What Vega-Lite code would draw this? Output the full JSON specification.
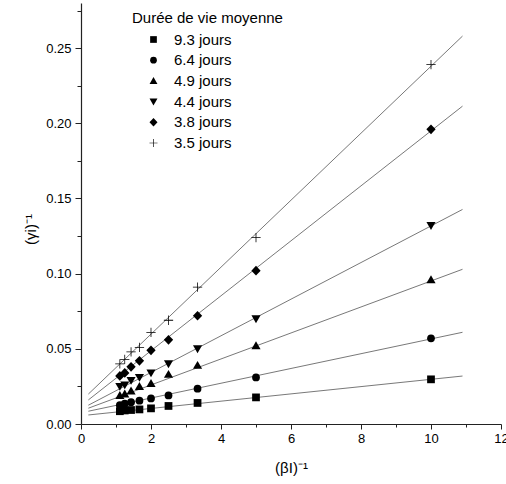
{
  "$schema": "https://vega.github.io/schema/vega-lite/v6.json",
  "width": 420,
  "height": 421,
  "autosize": {"type": "none"},
  "padding": {"left": 81, "top": 3, "right": 5, "bottom": 60},
  "background": "white",
  "config": {
    "view": {"stroke": null},
    "font": "Liberation Sans",
    "axis": {
      "grid": false,
      "domainColor": "#222",
      "domainWidth": 1.2,
      "tickColor": "#222",
      "tickWidth": 1,
      "labelFont": "Liberation Sans",
      "labelFontSize": 13,
      "labelColor": "black",
      "titleFont": "Liberation Sans",
      "titleFontSize": 15,
      "titleFontWeight": "normal",
      "titleColor": "black"
    }
  },
  "datasets": {
    "points": [
      {"serie": "9.3 jours", "x": 1.11, "y": 0.0085},
      {"serie": "9.3 jours", "x": 1.25, "y": 0.009},
      {"serie": "9.3 jours", "x": 1.43, "y": 0.0093},
      {"serie": "9.3 jours", "x": 1.67, "y": 0.0097},
      {"serie": "9.3 jours", "x": 2, "y": 0.0104},
      {"serie": "9.3 jours", "x": 2.5, "y": 0.012},
      {"serie": "9.3 jours", "x": 3.33, "y": 0.014},
      {"serie": "9.3 jours", "x": 5, "y": 0.0177},
      {"serie": "9.3 jours", "x": 10, "y": 0.0297},
      {"serie": "6.4 jours", "x": 1.11, "y": 0.0125},
      {"serie": "6.4 jours", "x": 1.25, "y": 0.0135},
      {"serie": "6.4 jours", "x": 1.43, "y": 0.0145},
      {"serie": "6.4 jours", "x": 1.67, "y": 0.0155},
      {"serie": "6.4 jours", "x": 2, "y": 0.017},
      {"serie": "6.4 jours", "x": 2.5, "y": 0.019},
      {"serie": "6.4 jours", "x": 3.33, "y": 0.0235},
      {"serie": "6.4 jours", "x": 5, "y": 0.031},
      {"serie": "6.4 jours", "x": 10, "y": 0.057},
      {"serie": "4.9 jours", "x": 1.11, "y": 0.019},
      {"serie": "4.9 jours", "x": 1.25, "y": 0.020},
      {"serie": "4.9 jours", "x": 1.43, "y": 0.022},
      {"serie": "4.9 jours", "x": 1.67, "y": 0.025},
      {"serie": "4.9 jours", "x": 2, "y": 0.027},
      {"serie": "4.9 jours", "x": 2.5, "y": 0.033},
      {"serie": "4.9 jours", "x": 3.33, "y": 0.039},
      {"serie": "4.9 jours", "x": 5, "y": 0.052},
      {"serie": "4.9 jours", "x": 10, "y": 0.096},
      {"serie": "4.4 jours", "x": 1.11, "y": 0.025},
      {"serie": "4.4 jours", "x": 1.25, "y": 0.026},
      {"serie": "4.4 jours", "x": 1.43, "y": 0.029},
      {"serie": "4.4 jours", "x": 1.67, "y": 0.031},
      {"serie": "4.4 jours", "x": 2, "y": 0.034},
      {"serie": "4.4 jours", "x": 2.5, "y": 0.040},
      {"serie": "4.4 jours", "x": 3.33, "y": 0.050},
      {"serie": "4.4 jours", "x": 5, "y": 0.070},
      {"serie": "4.4 jours", "x": 10, "y": 0.132},
      {"serie": "3.8 jours", "x": 1.11, "y": 0.032},
      {"serie": "3.8 jours", "x": 1.25, "y": 0.034},
      {"serie": "3.8 jours", "x": 1.43, "y": 0.038},
      {"serie": "3.8 jours", "x": 1.67, "y": 0.042},
      {"serie": "3.8 jours", "x": 2, "y": 0.049},
      {"serie": "3.8 jours", "x": 2.5, "y": 0.056},
      {"serie": "3.8 jours", "x": 3.33, "y": 0.072},
      {"serie": "3.8 jours", "x": 5, "y": 0.102},
      {"serie": "3.8 jours", "x": 10, "y": 0.196},
      {"serie": "3.5 jours", "x": 1.11, "y": 0.040},
      {"serie": "3.5 jours", "x": 1.25, "y": 0.043},
      {"serie": "3.5 jours", "x": 1.43, "y": 0.048},
      {"serie": "3.5 jours", "x": 1.67, "y": 0.051},
      {"serie": "3.5 jours", "x": 2, "y": 0.061},
      {"serie": "3.5 jours", "x": 2.5, "y": 0.069},
      {"serie": "3.5 jours", "x": 3.33, "y": 0.091},
      {"serie": "3.5 jours", "x": 5, "y": 0.124},
      {"serie": "3.5 jours", "x": 10, "y": 0.239}
    ],
    "fits": [
      {"serie": "9.3 jours", "x": 0.21, "y": 0.006},
      {"serie": "9.3 jours", "x": 10.9, "y": 0.0319},
      {"serie": "6.4 jours", "x": 0.21, "y": 0.0085},
      {"serie": "6.4 jours", "x": 10.9, "y": 0.061},
      {"serie": "4.9 jours", "x": 0.21, "y": 0.0105},
      {"serie": "4.9 jours", "x": 10.9, "y": 0.1029},
      {"serie": "4.4 jours", "x": 0.21, "y": 0.0125},
      {"serie": "4.4 jours", "x": 10.9, "y": 0.1427},
      {"serie": "3.8 jours", "x": 0.21, "y": 0.016},
      {"serie": "3.8 jours", "x": 10.9, "y": 0.2114},
      {"serie": "3.5 jours", "x": 0.21, "y": 0.0199},
      {"serie": "3.5 jours", "x": 10.9, "y": 0.258}
    ]
  },
  "encoding": {
    "x": {
      "field": "x",
      "type": "quantitative",
      "scale": {"domain": [0, 12], "nice": false, "zero": false},
      "axis": {
        "title": "(βI)⁻¹",
        "values": [0, 1, 2, 3, 4, 5, 6, 7, 8, 9, 10, 11, 12],
        "labelExpr": "datum.value % 2 == 0 ? datum.label : ''",
        "tickSize": {"condition": {"test": "datum.value % 2 == 0", "value": 5}, "value": 3},
        "labelPadding": 3,
        "labelFlush": false,
        "labelOverlap": false,
        "titlePadding": 15
      }
    },
    "y": {
      "field": "y",
      "type": "quantitative",
      "scale": {"domain": [0, 0.28], "nice": false, "zero": false},
      "axis": {
        "title": "(γi)⁻¹",
        "values": [0, 0.025, 0.05, 0.075, 0.1, 0.125, 0.15, 0.175, 0.2, 0.225, 0.25, 0.275],
        "format": ".2f",
        "labelExpr": "abs(datum.value * 20 - round(datum.value * 20)) < 0.001 ? datum.label : ''",
        "tickSize": {"condition": {"test": "abs(datum.value * 20 - round(datum.value * 20)) < 0.001", "value": 6}, "value": 4},
        "labelPadding": 4,
        "labelFlush": false,
        "labelOverlap": false,
        "titlePadding": 7,
        "titleY": 226
      }
    }
  },
  "layer": [
    {
      "data": {"name": "fits"},
      "mark": {"type": "line", "color": "#555", "strokeWidth": 0.8},
      "encoding": {"detail": {"field": "serie", "type": "nominal"}}
    },
    {
      "data": {"name": "points"},
      "mark": {"type": "point", "filled": true, "color": "black", "opacity": 1, "size": 60},
      "encoding": {
        "shape": {
          "field": "serie",
          "type": "nominal",
          "scale": {
            "domain": ["9.3 jours", "6.4 jours", "4.9 jours", "4.4 jours", "3.8 jours", "3.5 jours"],
            "range": [
              "square",
              "circle",
              "M0,-1.15L1.18,0.9L-1.18,0.9Z",
              "M0,1.15L1.18,-0.9L-1.18,-0.9Z",
              "M0,-1.25L1.2,0L0,1.25L-1.2,0Z",
              "M-1.2,-0.1H-0.1V-1.2H0.1V-0.1H1.2V0.1H0.1V1.2H-0.1V0.1H-1.2Z"
            ]
          },
          "legend": {
            "title": "Durée de vie moyenne",
            "orient": "none",
            "legendX": 51,
            "legendY": 8,
            "padding": 0,
            "titleFont": "Liberation Sans",
            "titleFontSize": 15,
            "titleFontWeight": "normal",
            "titleColor": "black",
            "titlePadding": 6,
            "labelFont": "Liberation Sans",
            "labelFontSize": 15,
            "labelColor": "black",
            "labelOffset": 13,
            "symbolOffset": 14,
            "symbolSize": 45,
            "rowPadding": 4.7,
            "symbolFillColor": "black",
            "symbolStrokeColor": "black",
            "symbolStrokeWidth": 0
          }
        }
      }
    }
  ]
}
